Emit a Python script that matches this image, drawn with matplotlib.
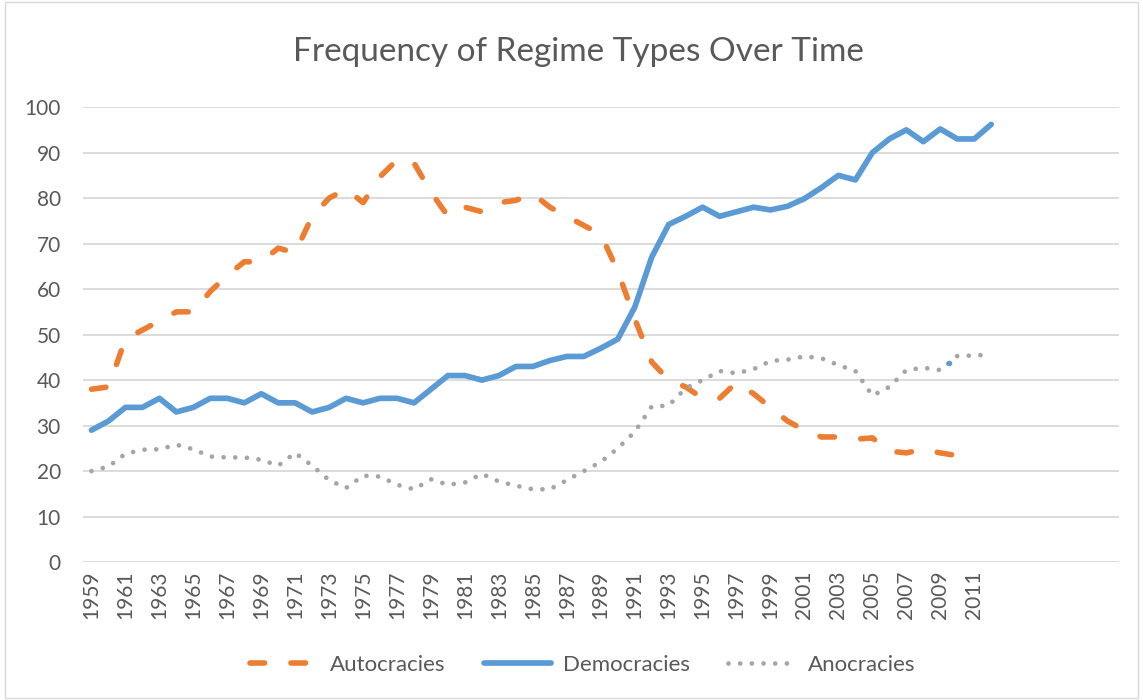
import matplotlib
matplotlib.use("Agg")
import matplotlib.pyplot as plt
from matplotlib.patches import Rectangle

plt.rcParams['font.family'] = ['Lato', 'DejaVu Sans']
plt.rcParams['lines.scale_dashes'] = False

# data
years = list(range(1959, 2013))
autocracies = [38, 38.5, 49, 51, 53, 55, 55, 59.5, 63, 66, 66, 69, 68, 76, 80, 82, 79,
               84.7, 88.4, 87.7, 81.3, 76, 78, 77, 79, 79.5, 81, 78, 76, 74, 72, 64,
               53.5, 44, 40, 38.5, 36, 36, 39.5, 37, 34, 31, 29, 27.5, 27.5, 27, 27.3,
               24.4, 24, 24.8, 24, 23.4, 22.2]
democracies = [29, 31, 34, 34, 36, 33, 34, 36, 36, 35, 37, 35, 35, 33, 34, 36, 35, 36,
               36, 35, 38, 41, 41, 40, 41, 43, 43, 44.3, 45.2, 45.2, 47, 49, 56, 67,
               74.2, 76, 78, 76, 77, 78, 77.4, 78.2, 79.9, 82.3, 85, 84, 90, 93, 95,
               92.4, 95.2, 93, 93, 96.2]
anocracies = [20, 21, 23.8, 24.7, 24.8, 25.8, 24.8, 23.2, 23, 23, 22.5, 21.2, 24, 21.2,
              18, 16.3, 19, 18.8, 17, 16, 18.2, 17, 17.5, 19.4, 17.7, 16.8, 16, 16, 18,
              20, 22, 25, 28.6, 34.2, 34.4, 38.2, 40, 42, 41.5, 42.4, 44.2, 44.5, 45.2,
              44.8, 43.3, 42, 36.6, 38.5, 42.2, 42.7, 42.2, 45.3, 45.4, 45.6]
# stray blue point sitting on the anocracies line
stray_pos = [50.5]
stray_val = [43.8]

n_categories = 61  # the category axis runs on, blank, to 2019
tick_years = list(range(1959, 2012, 2))

orange = '#ED7D31'
blue = '#5B9BD5'
gray = '#A5A5A5'
text_gray = '#595959'

fig = plt.figure(figsize=(11.43, 7), dpi=100)
fig.patches.append(Rectangle((0.004, 0.003), 0.992, 0.994, transform=fig.transFigure,
                             fill=False, edgecolor='#d9d9d9', linewidth=1))
ax = fig.add_axes([0.0726, 0.197, 0.906, 0.650])

x_auto = range(len(autocracies))
x_demo = range(len(democracies))
x_ano = range(len(anocracies))

ax.plot(x_auto, autocracies, color=orange, linewidth=4.0, dashes=(10.5, 19),
        dash_capstyle='round', dash_joinstyle='round', label='Autocracies', zorder=3)
ax.plot(x_demo, democracies, color=blue, linewidth=4.1, solid_capstyle='round',
        solid_joinstyle='round', label='Democracies', zorder=3)
ax.plot(x_ano, anocracies, color=gray, linewidth=3.4, dashes=(0.01, 8.4),
        dash_capstyle='round', label='Anocracies', zorder=3)
ax.scatter(stray_pos, stray_val, s=16, color=blue, zorder=4, linewidths=0)

ax.set_xlim(-0.5, n_categories - 0.5)
ax.set_ylim(0, 100)
ax.set_yticks(range(0, 101, 10))
ax.set_xticks([y - years[0] for y in tick_years])
ax.set_xticklabels([str(y) for y in tick_years], rotation=90)
ax.grid(axis='y', color='#d9d9d9', linewidth=1.3)
ax.set_axisbelow(True)
for s in ax.spines.values():
    s.set_visible(False)
ax.tick_params(length=0, labelsize=15, colors=text_gray)
ax.tick_params(axis='y', pad=16)
ax.tick_params(axis='x', pad=6)

fig.text(0.506, 0.926, 'Frequency of Regime Types Over Time', ha='center', va='center',
         fontsize=24, color=text_gray)

leg = fig.legend(loc='center', bbox_to_anchor=(0.51, 0.05), ncol=3, frameon=False,
                 fontsize=16, handlelength=3.05, columnspacing=1.7, handletextpad=0.54)
for t in leg.get_texts():
    t.set_color(text_gray)

fig.savefig('out.png', dpi=100)
